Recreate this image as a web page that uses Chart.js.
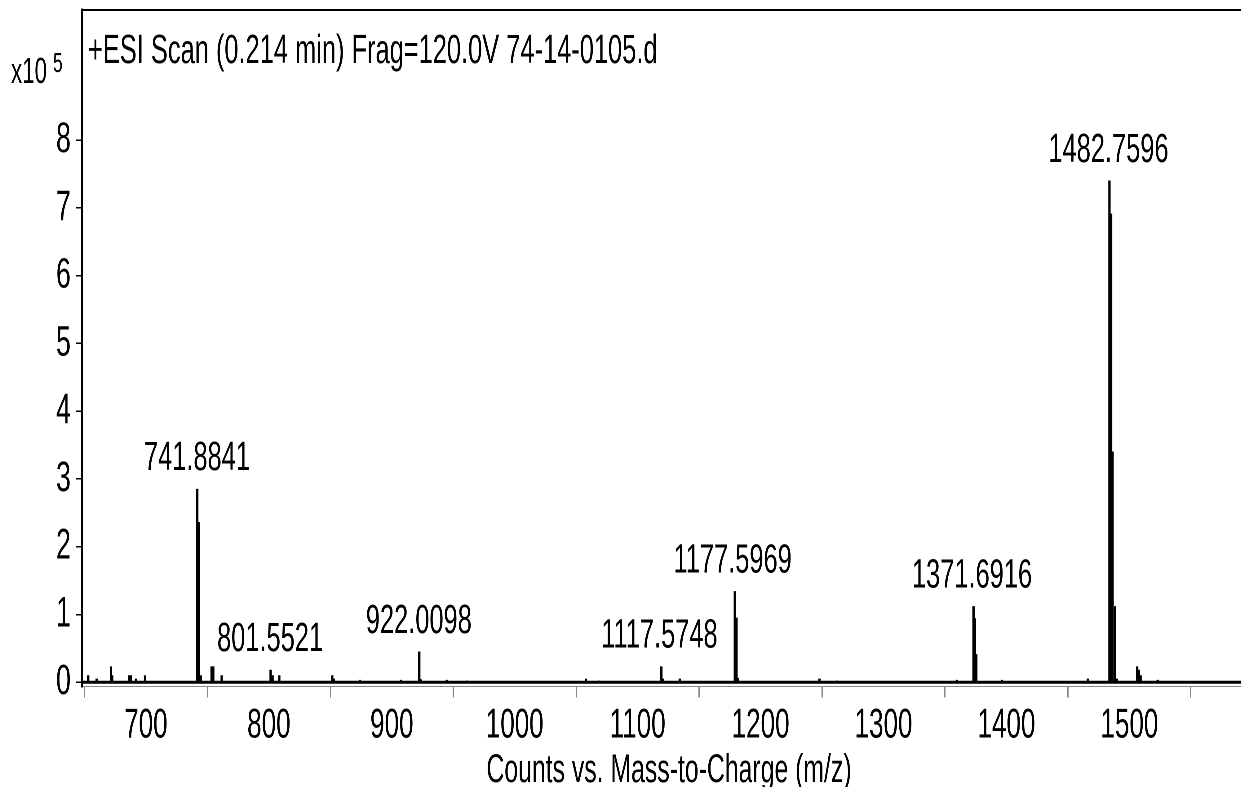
<!DOCTYPE html>
<html lang="en">
<head>
    <meta charset="UTF-8">
    <title>+ESI Scan 74-14-0105.d</title>
    <script src="https://cdn.jsdelivr.net/npm/chart.js"></script>
    <style>
        html, body {
            margin: 0;
            padding: 0;
            background: #fff;
            overflow: hidden;
        }
        /* the original uses a condensed font, so the chart is drawn wide and squeezed */
        .wrap {
            width: 2002px;
            height: 787px;
            transform: scaleX(0.62);
            transform-origin: 0 0;
        }
    </style>
</head>
<body>
    <div class="wrap">
        <canvas id="spectrum"></canvas>
    </div>
    <script>
        const FONT = "'Liberation Sans', Arial, sans-serif";
        const SQUEEZE = 0.62;

        // axis ranges (x10^5 counts)
        const xMin = 648, xMax = 1591;
        const yMin = -0.062, yMax = 9.92;
        const xTicks = [700, 800, 900, 1000, 1100, 1200, 1300, 1400, 1500];
        const yTicks = [0, 1, 2, 3, 4, 5, 6, 7, 8];

        // peaks: m/z and intensity
        const peakMz = [653.1, 659.9, 671.5, 672.6, 686.4, 687.8, 691.9, 699.2,
            741.8, 743.0, 744.5, 753.4, 754.8, 761.6, 801.4, 803.0, 808.5,
            851.6, 852.8, 874.0, 907.5, 922.4, 923.5, 944.7, 961.0, 1058.0,
            1068.9, 1119.3, 1120.4, 1134.2, 1179.0, 1180.4, 1181.7, 1247.9,
            1262.0, 1359.6, 1373.2, 1374.4, 1375.5, 1396.3, 1466.2, 1483.8,
            1485.2, 1486.3, 1488.2, 1489.8, 1506.4, 1507.7, 1509.1, 1523.0];
        const peakIntensity = [0.10, 0.05, 0.23, 0.10, 0.10, 0.10, 0.05, 0.10,
            2.85, 2.36, 0.10, 0.23, 0.23, 0.10, 0.18, 0.10, 0.10,
            0.10, 0.05, 0.03, 0.03, 0.45, 0.04, 0.03, 0.02, 0.05,
            0.02, 0.23, 0.05, 0.05, 1.34, 0.95, 0.06, 0.05,
            0.02, 0.03, 1.12, 0.94, 0.41, 0.03, 0.05, 7.40,
            6.91, 3.40, 1.12, 0.05, 0.23, 0.18, 0.10, 0.03];

        // the noisy baseline along the whole scan
        const baselineMz = [648, 1591];
        const baselineIntensity = [0, 0];

        // annotated peaks
        const labelText = ['741.8841', '801.5521', '922.0098', '1117.5748', '1177.5969', '1371.6916', '1482.7596'];
        const labelMz = [741.5, 801.0, 922.0, 1117.7, 1177.3, 1372.0, 1483.0];
        const labelIntensity = [2.85, 0.18, 0.45, 0.23, 1.34, 1.12, 7.40];

        const titleText = '+ESI Scan (0.214 min) Frag=120.0V 74-14-0105.d';
        const xTitle = 'Counts vs. Mass-to-Charge (m/z)';

        const textPlugin = {
            id: 'texts',
            afterDraw(chart) {
                const ctx = chart.ctx;
                const x = chart.scales.x, y = chart.scales.y;
                const area = chart.chartArea;
                ctx.save();

                // top frame line
                ctx.strokeStyle = '#000';
                ctx.lineWidth = 2;
                ctx.beginPath();
                ctx.moveTo(area.left, area.top);
                ctx.lineTo(area.right, area.top);
                ctx.stroke();

                ctx.fillStyle = '#000';
                ctx.textBaseline = 'alphabetic';

                // peak labels
                ctx.font = '41px ' + FONT;
                ctx.textAlign = 'center';
                labelText.forEach((t, i) => {
                    ctx.fillText(t, x.getPixelForValue(labelMz[i]), y.getPixelForValue(labelIntensity[i]) - 19);
                });

                // scan title
                ctx.textAlign = 'left';
                ctx.font = '41px ' + FONT;
                ctx.fillText(titleText, 88 / SQUEEZE, 63);

                // y multiplier
                ctx.font = '36px ' + FONT;
                ctx.fillText('x10', 11 / SQUEEZE, 83);
                ctx.font = '28px ' + FONT;
                ctx.fillText('5', 53 / SQUEEZE, 72);

                // x axis title
                ctx.font = '40px ' + FONT;
                ctx.textAlign = 'center';
                ctx.fillText(xTitle, 669 / SQUEEZE, 782);

                ctx.restore();
            }
        };

        const ctx = document.getElementById('spectrum').getContext('2d');
        new Chart(ctx, {
            type: 'bar',
            data: {
                datasets: [{
                    type: 'bar',
                    data: peakMz.map((m, i) => ({ x: m, y: peakIntensity[i] })),
                    backgroundColor: '#000',
                    borderWidth: 0,
                    barThickness: 3,
                    grouped: false
                }, {
                    type: 'line',
                    data: baselineMz.map((m, i) => ({ x: m, y: baselineIntensity[i] })),
                    borderColor: '#000',
                    borderWidth: 3,
                    pointRadius: 0
                }]
            },
            options: {
                responsive: true,
                maintainAspectRatio: false,
                devicePixelRatio: 2,
                animation: false,
                layout: {
                    autoPadding: false,
                    padding: { top: 10, right: 0, bottom: 0, left: 0 }
                },
                plugins: {
                    legend: { display: false },
                    tooltip: { enabled: false }
                },
                scales: {
                    x: {
                        type: 'linear',
                        min: xMin,
                        max: xMax,
                        offset: false,
                        afterBuildTicks: s => { s.ticks = xTicks.map(v => ({ value: v })); },
                        afterFit: s => {
                            s.height = 100.5;
                            s.paddingLeft = 0;
                            s.paddingRight = 0;
                        },
                        grid: {
                            drawOnChartArea: false,
                            drawTicks: true,
                            tickLength: 11,
                            color: '#888',
                            lineWidth: 2
                        },
                        border: { display: true, color: '#888', width: 1 },
                        ticks: {
                            font: { family: FONT, size: 42 },
                            color: '#000',
                            padding: 3,
                            maxRotation: 0,
                            autoSkip: false,
                            callback: v => String(v)
                        }
                    },
                    y: {
                        min: yMin,
                        max: yMax,
                        afterBuildTicks: s => { s.ticks = yTicks.map(v => ({ value: v })); },
                        afterFit: s => {
                            s.width = 82 / SQUEEZE;
                            s.paddingTop = 0;
                            s.paddingBottom = 0;
                        },
                        grid: {
                            drawOnChartArea: false,
                            drawTicks: true,
                            tickLength: 10,
                            color: '#000',
                            lineWidth: 1.5
                        },
                        border: { display: true, color: '#000', width: 2.6 },
                        ticks: {
                            font: { family: FONT, size: 43 },
                            color: '#000',
                            padding: 8,
                            callback: v => String(v)
                        }
                    }
                }
            },
            plugins: [textPlugin]
        });
    </script>
</body>
</html>
